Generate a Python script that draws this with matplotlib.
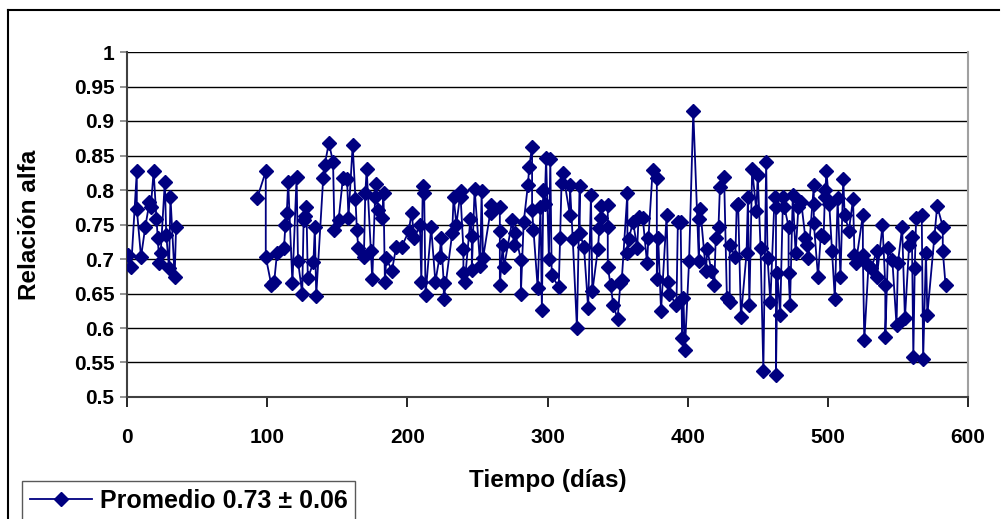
import matplotlib
matplotlib.use("Agg")
import matplotlib.pyplot as plt
from matplotlib.lines import Line2D
import numpy as np

plt.rcParams['font.family'] = ['Liberation Sans', 'DejaVu Sans']

# ---- data ----
dias = [1, 3, 7, 7, 10, 13, 16, 17, 19, 21, 22, 23, 24, 27, 28, 30, 31, 34, 35,
        93, 99, 99, 103, 105, 107, 112, 113, 114, 115, 118, 121, 122, 125, 126, 127, 128, 129,
        133, 134, 135, 140, 141, 144, 147, 148, 151, 154, 157, 158, 161, 163, 164, 165, 169,
        170, 171, 174, 175, 177, 178, 179, 182, 183, 184, 185, 189, 192, 196, 201, 203, 205,
        209, 210, 211, 212, 213, 217, 220, 223, 224, 226, 226, 232, 233, 235, 238, 238, 240,
        240, 241, 245, 246, 246, 248, 252, 253, 254, 260, 260, 266, 266, 266, 268, 269, 275,
        276, 277, 281, 281, 283, 286, 287, 289, 289, 290, 293, 295, 296, 297, 297, 298, 299,
        301, 302, 303, 308, 309, 310, 311, 316, 316, 318, 321, 323, 323, 326, 329, 331, 332,
        336, 337, 338, 338, 343, 343, 343, 345, 347, 350, 352, 353, 357, 357, 358, 361, 364,
        365, 368, 371, 372, 375, 378, 378, 379, 381, 385, 386, 387, 392, 393, 395, 396, 397,
        398, 401, 404, 408, 408, 409, 413, 414, 417, 419, 420, 422, 423, 426, 428, 430, 430,
        434, 435, 436, 438, 442, 443, 444, 446, 449, 450, 452, 454, 456, 457, 459, 462, 463,
        463, 464, 466, 468, 469, 472, 472, 473, 475, 477, 479, 481, 484, 485, 486, 490, 490,
        490, 493, 495, 497, 498, 498, 499, 501, 503, 505, 507, 509, 511, 512, 515, 518, 519,
        520, 525, 525, 526, 529, 531, 535, 535, 539, 541, 541, 543, 546, 549, 550, 553, 555,
        558, 560, 561, 562, 563, 567, 568, 570, 571, 576, 578, 582, 582, 584]

alfa = [0.706, 0.689, 0.827, 0.772, 0.703, 0.746, 0.782, 0.775, 0.827, 0.758, 0.730, 0.694,
        0.708, 0.812, 0.735, 0.687, 0.790, 0.674, 0.746,
        0.789, 0.827, 0.703, 0.662, 0.667, 0.708, 0.716, 0.749, 0.767, 0.811, 0.665, 0.819,
        0.697, 0.650, 0.757, 0.762, 0.776, 0.672, 0.695, 0.746, 0.647, 0.818, 0.836, 0.868,
        0.841, 0.742, 0.757, 0.817, 0.816, 0.760, 0.865, 0.787, 0.742, 0.716, 0.703, 0.795,
        0.830, 0.711, 0.671, 0.790, 0.808, 0.771, 0.759, 0.796, 0.667, 0.701, 0.683, 0.717,
        0.718, 0.740, 0.767, 0.730, 0.749, 0.667, 0.806, 0.796, 0.648, 0.746, 0.667, 0.703,
        0.730, 0.665, 0.642, 0.737, 0.790, 0.750, 0.798, 0.790, 0.714, 0.679, 0.667, 0.758,
        0.733, 0.684, 0.802, 0.690, 0.798, 0.701, 0.778, 0.766, 0.775, 0.740, 0.662, 0.720,
        0.689, 0.757, 0.720, 0.737, 0.699, 0.650, 0.753, 0.807, 0.834, 0.863, 0.771, 0.742,
        0.658, 0.776, 0.626, 0.798, 0.800, 0.780, 0.846, 0.700, 0.845, 0.677, 0.659, 0.730,
        0.810, 0.825, 0.764, 0.807, 0.729, 0.600, 0.806, 0.737, 0.718, 0.629, 0.793, 0.653,
        0.715, 0.745, 0.760, 0.777, 0.778, 0.746, 0.689, 0.662, 0.633, 0.613, 0.665, 0.670,
        0.796, 0.708, 0.729, 0.754, 0.716, 0.761, 0.759, 0.694, 0.730, 0.829, 0.817, 0.671,
        0.730, 0.625, 0.764, 0.667, 0.650, 0.633, 0.753, 0.754, 0.585, 0.643, 0.568, 0.697,
        0.914, 0.697, 0.758, 0.772, 0.682, 0.714, 0.682, 0.662, 0.730, 0.747, 0.804, 0.819,
        0.643, 0.638, 0.720, 0.703, 0.778, 0.780, 0.616, 0.708, 0.790, 0.633, 0.830, 0.770,
        0.822, 0.716, 0.538, 0.840, 0.701, 0.638, 0.790, 0.775, 0.532, 0.679, 0.619, 0.790,
        0.775, 0.747, 0.679, 0.633, 0.793, 0.708, 0.775, 0.783, 0.730, 0.720, 0.701, 0.807,
        0.780, 0.752, 0.674, 0.735, 0.732, 0.800, 0.790, 0.827, 0.780, 0.712, 0.642, 0.788,
        0.674, 0.816, 0.764, 0.741, 0.787, 0.706, 0.694, 0.764, 0.706, 0.582, 0.691, 0.687,
        0.712, 0.674, 0.749, 0.662, 0.587, 0.716, 0.699, 0.604, 0.694, 0.746, 0.614, 0.720,
        0.732, 0.558, 0.687, 0.760, 0.764, 0.555, 0.709, 0.619, 0.732, 0.777, 0.747, 0.712,
        0.662]

x_ticks = [0, 100, 200, 300, 400, 500, 600]
y_ticks = [0.5, 0.55, 0.6, 0.65, 0.7, 0.75, 0.8, 0.85, 0.9, 0.95, 1.0]
y_ticklabels = ['0.5', '0.55', '0.6', '0.65', '0.7', '0.75', '0.8', '0.85', '0.9', '0.95', '1']
serie_label = 'Promedio 0.73 ± 0.06'

# the measurements have a gap (no data between ~day 35 and ~day 93): break the line there
d = np.asarray(dias, dtype=float)
v = np.asarray(alfa, dtype=float)
cut = np.where(np.diff(d) > 30)[0] + 1
d_plot = np.insert(d, cut, np.nan)
v_plot = np.insert(v, cut, np.nan)

W, H = 1002, 519
fig = plt.figure(figsize=(W / 100, H / 100), dpi=100)
ax = fig.add_axes([127 / W, 1 - 397 / H, (968 - 127) / W, (397 - 52) / H])

navy = '#000080'
ax.plot(d_plot, v_plot, color=navy, lw=1.3, marker='D', markersize=7.5,
        markerfacecolor=navy, markeredgecolor=navy, zorder=3)

ax.set_xlim(0, 600)
ax.set_ylim(0.5, 1.0)
ax.set_xticks(x_ticks)
ax.set_xticklabels([str(t) for t in x_ticks])
ax.set_yticks(y_ticks)
ax.set_yticklabels(y_ticklabels)
for lab in ax.get_xticklabels() + ax.get_yticklabels():
    lab.set_fontweight('bold')
    lab.set_fontsize(15)
ax.tick_params(axis='x', direction='out', length=7, width=1.2, color='black', pad=15)
ax.tick_params(axis='y', direction='out', length=5, width=1.2, color='#808080', pad=4)

ax.yaxis.grid(True, color='black', lw=1.0)
ax.set_axisbelow(True)
ax.spines['top'].set_visible(False)
ax.spines['left'].set_color('#404040')
ax.spines['left'].set_linewidth(1.5)
ax.spines['bottom'].set_color('#404040')
ax.spines['bottom'].set_linewidth(1.5)
ax.spines['right'].set_color('#a0a0a0')
ax.spines['right'].set_linewidth(1.5)

ax.set_xlabel('Tiempo (días)', fontsize=17.5, fontweight='bold')
ax.xaxis.set_label_coords(0.5, (397 - 480) / 345, transform=ax.transAxes)
ax.xaxis.label.set_va('center')
ax.set_ylabel('Relación alfa', fontsize=17.5, fontweight='bold')
ax.yaxis.set_label_coords((30 - 127) / 841, 0.5, transform=ax.transAxes)
ax.yaxis.label.set_va('center')

# legend (outside, bottom-left)
handle = Line2D([0], [0], color=navy, lw=1.3, marker='D', markersize=7.5,
                markerfacecolor=navy, markeredgecolor=navy)
leg = fig.legend([handle], [serie_label], loc='upper left',
                 bbox_to_anchor=(22 / W, 1 - 481 / H), frameon=True,
                 prop={'weight': 'bold', 'size': 18}, handlelength=2.5,
                 borderpad=0.3, handletextpad=0.3, borderaxespad=0, fancybox=False)
leg.get_frame().set_edgecolor('#303030')
leg.get_frame().set_linewidth(1.0)

# outer chart border
fig.add_artist(Line2D([8 / W, 8 / W], [0, 1 - 10 / H], transform=fig.transFigure,
                      color='black', lw=1.5))
fig.add_artist(Line2D([8 / W, 999 / W], [1 - 10 / H, 1 - 10 / H], transform=fig.transFigure,
                      color='black', lw=1.5))

fig.savefig('out.png', dpi=100)
